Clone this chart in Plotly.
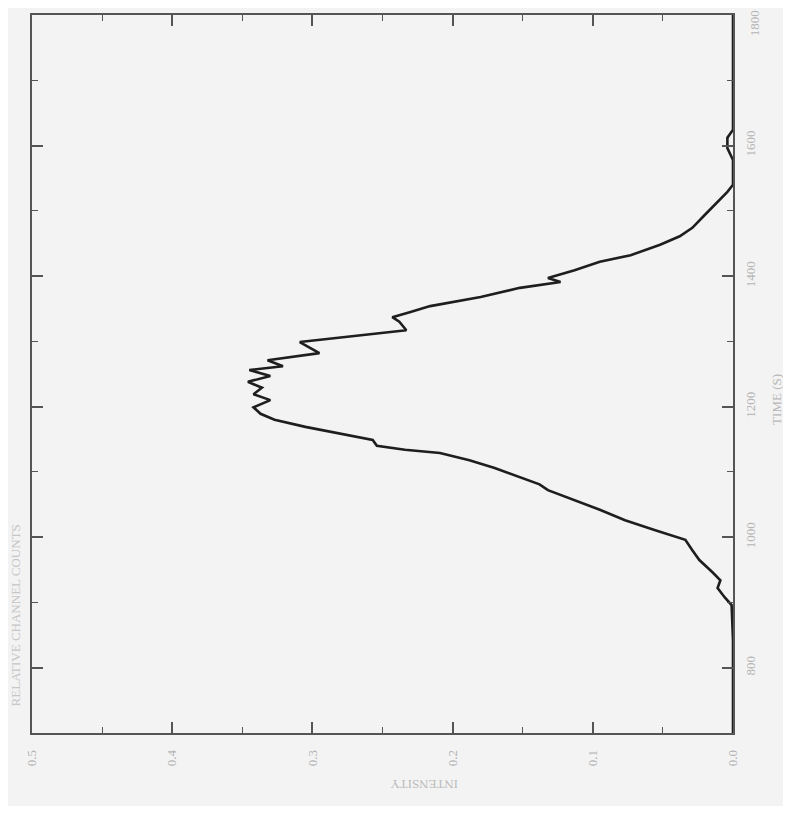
import plotly.graph_objects as go

# time (s) and relative value read from the (rotated) scanned chart
time_s = [700, 842, 896, 908, 922, 934, 947, 965, 980, 996, 1011, 1026, 1042, 1057,
          1072, 1081, 1094, 1106, 1118, 1129, 1134, 1140, 1149, 1160, 1169, 1180,
          1189, 1199, 1210, 1219, 1229, 1238, 1247, 1256, 1262, 1271, 1282, 1299,
          1307, 1317, 1330, 1337, 1345, 1354, 1368, 1376, 1382, 1391, 1397, 1409,
          1422, 1432, 1448, 1461, 1474, 1494, 1513, 1529, 1540, 1578, 1596, 1612,
          1624, 1800]
value = [0.0, 0.0, 0.001, 0.006, 0.011, 0.009, 0.015, 0.024, 0.029, 0.034, 0.056,
         0.077, 0.095, 0.113, 0.132, 0.138, 0.155, 0.170, 0.188, 0.209, 0.234,
         0.254, 0.257, 0.284, 0.305, 0.327, 0.337, 0.342, 0.330, 0.342, 0.336,
         0.346, 0.330, 0.345, 0.321, 0.332, 0.295, 0.309, 0.273, 0.233, 0.238,
         0.243, 0.230, 0.216, 0.180, 0.163, 0.152, 0.123, 0.132, 0.113, 0.095,
         0.073, 0.052, 0.038, 0.029, 0.020, 0.011, 0.004, 0.0, 0.0, 0.004, 0.004,
         0.0, 0.0]

value_ticks = [0.0, 0.1, 0.2, 0.3, 0.4, 0.5]
value_labels = ["0.0", "0.1", "0.2", "0.3", "0.4", "0.5"]
time_ticks = [800, 1000, 1200, 1400, 1600, 1800]
time_labels = ["800", "1000", "1200", "1400", "1600", "1800"]

fig = go.Figure()
fig.add_trace(go.Scatter(x=value, y=time_s, mode="lines",
                         line=dict(color="#1e1e1e", width=2.6, shape="linear"),
                         showlegend=False, hoverinfo="skip"))

serif = "Liberation Serif, DejaVu Serif, serif"
tick_font = dict(family=serif, size=13, color="#b4b4b4")

fig.update_layout(
    width=775, height=798,
    paper_bgcolor="#f3f3f3", plot_bgcolor="#f3f3f3",
    margin=dict(l=24, r=50, t=7, b=73, autoexpand=False),
    xaxis=dict(range=[0.5, 0.0], tickvals=value_ticks, ticktext=value_labels,
               ticks="inside", ticklen=11, tickwidth=1.5, tickcolor="#555",
               minor=dict(ticks="inside", ticklen=6, tickwidth=1.2, tickcolor="#555", dtick=0.05),
               showline=True, linecolor="#555", linewidth=1.6, mirror="ticks",
               showgrid=False, zeroline=False, tickangle=-90, tickfont=tick_font,
               automargin=False, ticklabelstandoff=10),
    yaxis=dict(range=[700, 1800], tickvals=time_ticks[:-1], ticktext=time_labels[:-1], side="right",
               ticks="inside", ticklen=11, tickwidth=1.5, tickcolor="#555",
               minor=dict(ticks="inside", ticklen=6, tickwidth=1.2, tickcolor="#555", dtick=100),
               showline=True, linecolor="#555", linewidth=1.6, mirror="ticks",
               showgrid=False, zeroline=False, tickangle=-90, tickfont=tick_font,
               automargin=False, ticklabelstandoff=5),
    annotations=[
        dict(text=time_labels[-1], xref="paper", yref="paper", x=1.031, y=1.009,
             xanchor="center", yanchor="top", showarrow=False, textangle=-90, font=tick_font),
        dict(text="TIME (S)", xref="paper", yref="paper", x=1.061, y=0.465,
             xanchor="center", yanchor="middle",
             showarrow=False, textangle=-90, font=dict(family=serif, size=13, color="#b8b8b8")),
        dict(text="INTENSITY", xref="paper", yref="paper", x=0.56, y=-0.072,
             xanchor="center", yanchor="middle",
             showarrow=False, textangle=180, font=dict(family=serif, size=13, color="#bcbcbc")),
        dict(text="RELATIVE CHANNEL COUNTS", xref="paper", yref="paper", x=-0.024, y=0.164,
             xanchor="center", yanchor="middle",
             showarrow=False, textangle=-90, font=dict(family=serif, size=13, color="#c6c6c6")),
    ],
)

fig.write_html("out.html")
